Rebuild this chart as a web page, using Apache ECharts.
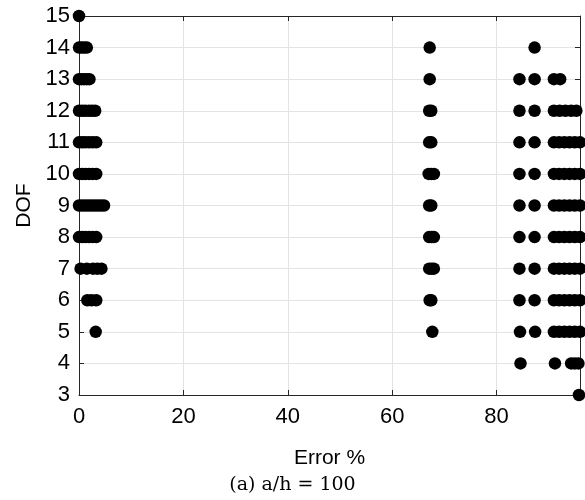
<!DOCTYPE html>
<html>
<head>
<meta charset="utf-8">
<script src="https://cdn.jsdelivr.net/npm/echarts@6/dist/echarts.min.js"></script>
<style>html,body{margin:0;padding:0;background:#fff;}#c{width:585px;height:500px;}</style>
</head>
<body>
<div id="c"></div>
<script>
// DOF level for each row of points
const dofRows = [15, 14, 13, 12, 11, 10, 9, 8, 7, 6, 5, 4, 3];
// Error % values observed at each DOF row (same order as dofRows)
const errorRows = [
  [0],
  [0, 0.5, 1, 1.5, 67.2, 87.3],
  [0, 0.5, 1, 1.5, 2, 67.2, 84.4, 87.3, 91.0, 92.2],
  [0, 0.6, 1.2, 1.9, 2.5, 3.1, 67.1, 67.5, 84.4, 87.3, 91.0, 92.1, 93.2, 94.3, 95.3],
  [0, 0.6, 1.2, 1.9, 2.6, 3.3, 67.1, 67.5, 84.4, 87.3, 91.0, 92.0, 93.0, 94.0, 95.0, 96.0],
  [0, 0.6, 1.2, 1.9, 2.6, 3.3, 67.0, 67.5, 68.0, 84.4, 87.3, 91.0, 92.0, 93.0, 94.0, 95.0, 96.0],
  [0, 0.6, 1.2, 1.8, 2.4, 3.0, 3.6, 4.2, 4.8, 67.1, 67.5, 84.4, 87.3, 91.0, 92.0, 93.0, 94.0, 95.0, 96.0],
  [0, 0.6, 1.2, 1.9, 2.6, 3.3, 67.1, 67.6, 68.0, 84.4, 87.3, 91.0, 92.0, 93.0, 94.0, 95.0, 96.0],
  [0.3, 1.5, 2.7, 3.5, 4.3, 67.1, 67.6, 68.0, 84.4, 87.3, 91.0, 92.0, 93.0, 94.0, 95.0, 96.0],
  [1.6, 2.4, 3.3, 67.2, 67.5, 84.4, 87.3, 91.0, 92.0, 93.0, 94.0, 95.0, 96.0],
  [3.2, 67.7, 84.5, 87.4, 91.0, 92.0, 93.0, 94.0, 95.0, 96.0],
  [84.6, 91.2, 94.3, 95.0, 95.7],
  [95.8]
];
const xTicks = [0, 20, 40, 60, 80];
const yTicks = [3, 4, 5, 6, 7, 8, 9, 10, 11, 12, 13, 14, 15];

const points = [];
dofRows.forEach((d, i) => errorRows[i].forEach(e => points.push([e, d])));

const axisColor = '#262626';
const gridColor = '#e3e3e3';
const font = 'Liberation Sans, Arial, Helvetica, sans-serif';

const chart = echarts.init(document.getElementById('c'), null, {renderer: 'canvas'});
chart.setOption({
  animation: false,
  backgroundColor: '#ffffff',
  grid: {left: 79, right: 5, top: 16, bottom: 105, containLabel: false},
  xAxis: [{
    type: 'value', min: 0, max: 96, interval: 20,
    name: 'Error %', nameLocation: 'middle', nameGap: 53,
    nameTextStyle: {color: '#000', fontSize: 21, fontFamily: font},
    axisLine: {show: true, lineStyle: {color: axisColor, width: 1}},
    axisTick: {show: true, inside: true, length: 5, lineStyle: {color: axisColor}},
    axisLabel: {color: '#000', fontSize: 22, fontFamily: font, margin: 11, showMaxLabel: false,
      formatter: v => xTicks.includes(v) ? String(v) : ''},
    splitLine: {show: true, lineStyle: {color: gridColor, width: 1}}
  }, {
    type: 'value', position: 'top', min: 0, max: 96, interval: 20,
    axisLine: {show: true, onZero: false, lineStyle: {color: axisColor, width: 1}},
    axisTick: {show: true, inside: true, length: 5, lineStyle: {color: axisColor}},
    axisLabel: {show: false}, splitLine: {show: false}
  }],
  yAxis: [{
    type: 'value', min: 3, max: 15, interval: 1,
    name: 'DOF', nameLocation: 'middle', nameGap: 43,
    nameTextStyle: {color: '#000', fontSize: 21, fontFamily: font},
    axisLine: {show: true, lineStyle: {color: axisColor, width: 1}},
    axisTick: {show: true, inside: true, length: 5, lineStyle: {color: axisColor}},
    axisLabel: {color: '#000', fontSize: 22, fontFamily: font, margin: 9,
      formatter: v => yTicks.includes(v) ? String(v) : ''},
    splitLine: {show: true, lineStyle: {color: gridColor, width: 1}}
  }, {
    type: 'value', position: 'right', min: 3, max: 15, interval: 1,
    axisLine: {show: true, onZero: false, lineStyle: {color: axisColor, width: 1}},
    axisTick: {show: true, inside: true, length: 5, lineStyle: {color: axisColor}},
    axisLabel: {show: false}, splitLine: {show: false}
  }],
  graphic: [{
    type: 'text', left: 'center', top: 476,
    style: {text: '(a) a/h = 100', fill: '#000', fontSize: 19, fontFamily: 'DejaVu Serif, Liberation Serif, serif'}
  }],
  series: [{
    type: 'scatter', xAxisIndex: 0, yAxisIndex: 0, clip: false,
    symbol: 'circle', symbolSize: 12.5,
    itemStyle: {color: '#000', opacity: 1},
    data: points
  }]
});
</script>
</body>
</html>
